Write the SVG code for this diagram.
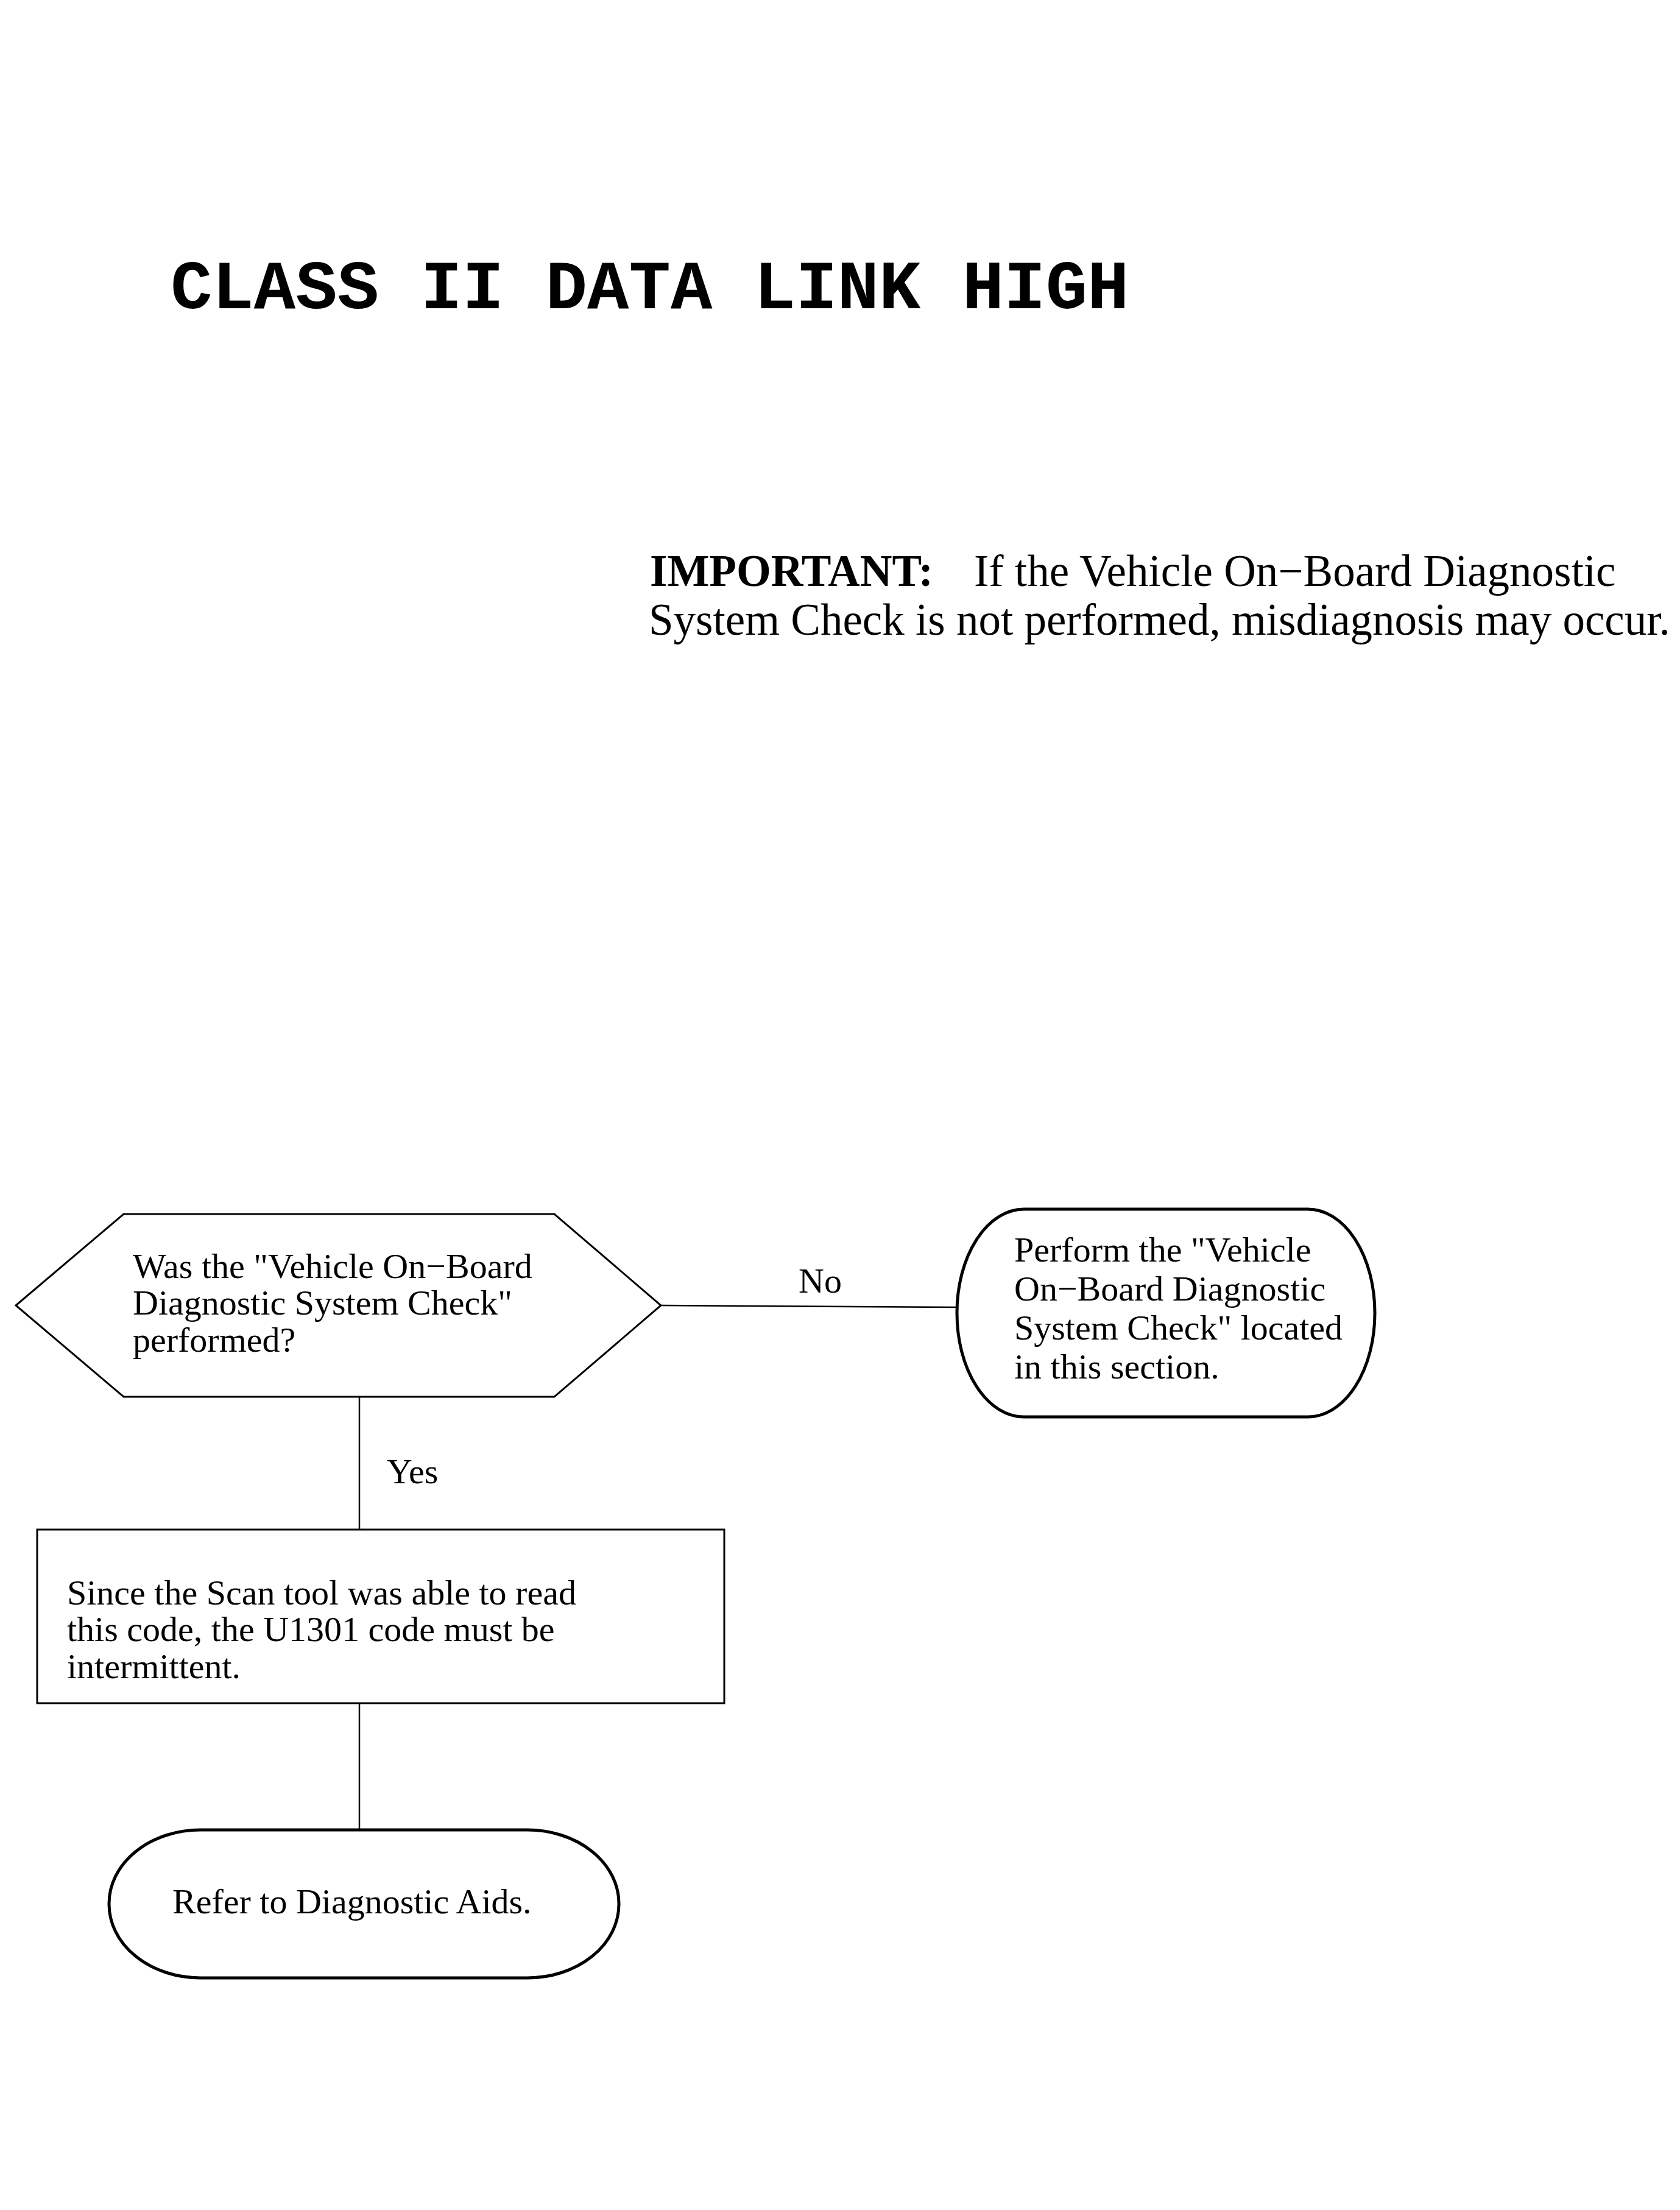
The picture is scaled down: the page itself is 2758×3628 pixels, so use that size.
<svg xmlns="http://www.w3.org/2000/svg" width="2758" height="3628" viewBox="0 0 2758 3628">
<style>
.t{font-family:"Liberation Serif","Times New Roman",serif;font-size:58px;fill:#000}
.imp{font-family:"Liberation Serif","Times New Roman",serif;font-size:73px;fill:#000}
.title{font-family:"Courier New",Courier,"Liberation Mono",monospace;font-size:114px;fill:#000}
.shape{fill:#fff;stroke:#000;stroke-width:3}
.term{fill:#fff;stroke:#000;stroke-width:5}
.conn{fill:none;stroke:#000;stroke-width:2.5}
</style>
<rect width="2758" height="3628" fill="#fff"/>
<g id="title">
<text class="title" x="280" y="506" font-weight="bold">CLASS II DATA LINK HIGH</text>
</g>
<g id="important">
<text class="imp" x="1067" y="962" font-weight="bold">IMPORTANT:</text>
<text class="imp" x="1599" y="962">If the Vehicle On−Board Diagnostic</text>
<text class="imp" x="1065" y="1042">System Check is not performed, misdiagnosis may occur.</text>
</g>
<g id="connectors">
<line class="conn" x1="1085" y1="2143" x2="1571" y2="2146"/>
<line class="conn" x1="590" y1="2293" x2="590" y2="2510"/>
<line class="conn" x1="590" y1="2796" x2="590" y2="3003"/>
<text class="t" x="1311" y="2122">No</text>
<text class="t" x="635" y="2435">Yes</text>
</g>
<g id="decision">
<polygon class="shape" points="26,2143 203,1993 910,1993 1085,2143 910,2293 203,2293"/>
<text class="t" x="218" y="2098">Was the "Vehicle On−Board</text>
<text class="t" x="218" y="2158">Diagnostic System Check"</text>
<text class="t" x="218" y="2219">performed?</text>
</g>
<g id="perform-check">
<rect class="term" x="1571" y="1985" width="686" height="341" rx="110" ry="170"/>
<text class="t" x="1665" y="2071">Perform the "Vehicle</text>
<text class="t" x="1665" y="2135">On−Board Diagnostic</text>
<text class="t" x="1665" y="2199">System Check" located</text>
<text class="t" x="1665" y="2263">in this section.</text>
</g>
<g id="intermittent">
<rect class="shape" x="61" y="2511" width="1128" height="285"/>
<text class="t" x="110" y="2634">Since the Scan tool was able to read</text>
<text class="t" x="110" y="2694">this code, the U1301 code must be</text>
<text class="t" x="110" y="2755">intermittent.</text>
</g>
<g id="diagnostic-aids">
<rect class="term" x="179" y="3004" width="837" height="243" rx="150" ry="121"/>
<text class="t" x="283" y="3141">Refer to Diagnostic Aids.</text>
</g>
</svg>
